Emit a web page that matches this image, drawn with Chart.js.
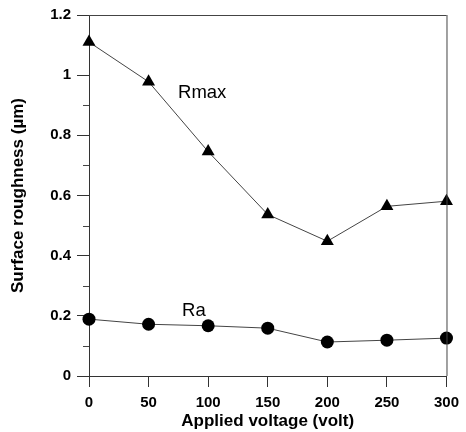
<!DOCTYPE html>
<html>
<head>
<meta charset="utf-8">
<script src="https://cdn.jsdelivr.net/npm/chart.js@4"></script>
<style>
html,body{margin:0;padding:0;background:#fff;}
#wrap{width:466px;height:432px;position:relative;}
</style>
</head>
<body>
<div id="wrap"><canvas id="c" width="466" height="432"></canvas></div>
<script>
const voltages = [0, 50, 100, 150, 200, 250, 300];
const rmaxValues = [1.110, 0.978, 0.746, 0.537, 0.448, 0.564, 0.581];
const raValues = [0.189, 0.172, 0.167, 0.159, 0.113, 0.119, 0.126];
const xTicks = [0, 50, 100, 150, 200, 250, 300];
const yTicks = [0, 0.2, 0.4, 0.6, 0.8, 1, 1.2];
const yMinorTicks = [0.1, 0.3, 0.5, 0.7, 0.9, 1.1];
const seriesLabels = [
  {text: 'Rmax', x: 95, y: 0.941},
  {text: 'Ra', x: 88, y: 0.215}
];

const FONT = '"Liberation Sans", Arial, sans-serif';

const framePlugin = {
  id: 'frame',
  afterDraw(chart) {
    const {ctx, chartArea: a, scales} = chart;
    ctx.save();
    ctx.strokeStyle = '#444';
    ctx.lineWidth = 1;
    ctx.beginPath();
    ctx.moveTo(a.left, a.top + 0.5);
    ctx.lineTo(a.right, a.top + 0.5);
    ctx.moveTo(a.right + 0.5, a.top);
    ctx.lineTo(a.right + 0.5, a.bottom);
    yMinorTicks.forEach(v => {
      const py = Math.round(scales.y.getPixelForValue(v)) + 0.5;
      ctx.moveTo(a.left - 6, py);
      ctx.lineTo(a.left, py);
    });
    ctx.stroke();
    ctx.fillStyle = '#000';
    ctx.font = '18.5px ' + FONT;
    ctx.textAlign = 'center';
    ctx.textBaseline = 'middle';
    seriesLabels.forEach(l => {
      ctx.fillText(l.text, scales.x.getPixelForValue(l.x), scales.y.getPixelForValue(l.y));
    });
    ctx.restore();
  }
};

new Chart(document.getElementById('c'), {
  type: 'line',
  data: {
    labels: voltages,
    datasets: [
      {
        label: 'Rmax',
        data: voltages.map((v, i) => ({x: v, y: rmaxValues[i]})),
        borderColor: '#444',
        borderWidth: 1,
        pointStyle: 'triangle',
        pointRadius: 7.5,
        pointBackgroundColor: '#000',
        pointBorderColor: '#000',
        pointBorderWidth: 0,
        tension: 0
      },
      {
        label: 'Ra',
        data: voltages.map((v, i) => ({x: v, y: raValues[i]})),
        borderColor: '#444',
        borderWidth: 1,
        pointStyle: 'circle',
        pointRadius: 6.5,
        pointBackgroundColor: '#000',
        pointBorderColor: '#000',
        pointBorderWidth: 0,
        tension: 0
      }
    ]
  },
  options: {
    responsive: false,
    animation: false,
    clip: false,
    layout: {padding: {left: 0, right: 14, top: 14, bottom: 0}},
    plugins: {legend: {display: false}, tooltip: {enabled: false}},
    scales: {
      x: {
        type: 'linear',
        min: 0, max: 300,
        afterBuildTicks(s) { s.ticks = xTicks.map(v => ({value: v})); },
        afterFit(s) { s.height = 56; },
        grid: {drawOnChartArea: false, tickLength: 11, color: '#333', tickColor: '#333'},
        border: {color: '#333', width: 1},
        ticks: {color: '#000', font: {family: FONT, size: 15, weight: 'bold'}, padding: 7, maxRotation: 0},
        title: {display: true, text: 'Applied voltage (volt)', color: '#000', font: {family: FONT, size: 17, weight: 'bold'}, padding: {top: 0, bottom: 0}}
      },
      y: {
        type: 'linear',
        min: 0, max: 1.2,
        afterBuildTicks(s) { s.ticks = yTicks.map(v => ({value: v})); },
        afterFit(s) { s.width = 89; },
        grid: {drawOnChartArea: false, tickLength: 12, color: '#333', tickColor: '#333'},
        border: {color: '#333', width: 1},
        ticks: {color: '#000', font: {family: FONT, size: 15, weight: 'bold'}, padding: 6,
          callback: v => String(Math.round(v * 10) / 10)},
        title: {display: true, text: 'Surface roughness (\u00b5m)', color: '#000', font: {family: FONT, size: 17, weight: 'bold'}, padding: {top: 8, bottom: 0}}
      }
    }
  },
  plugins: [framePlugin]
});
</script>
</body>
</html>
